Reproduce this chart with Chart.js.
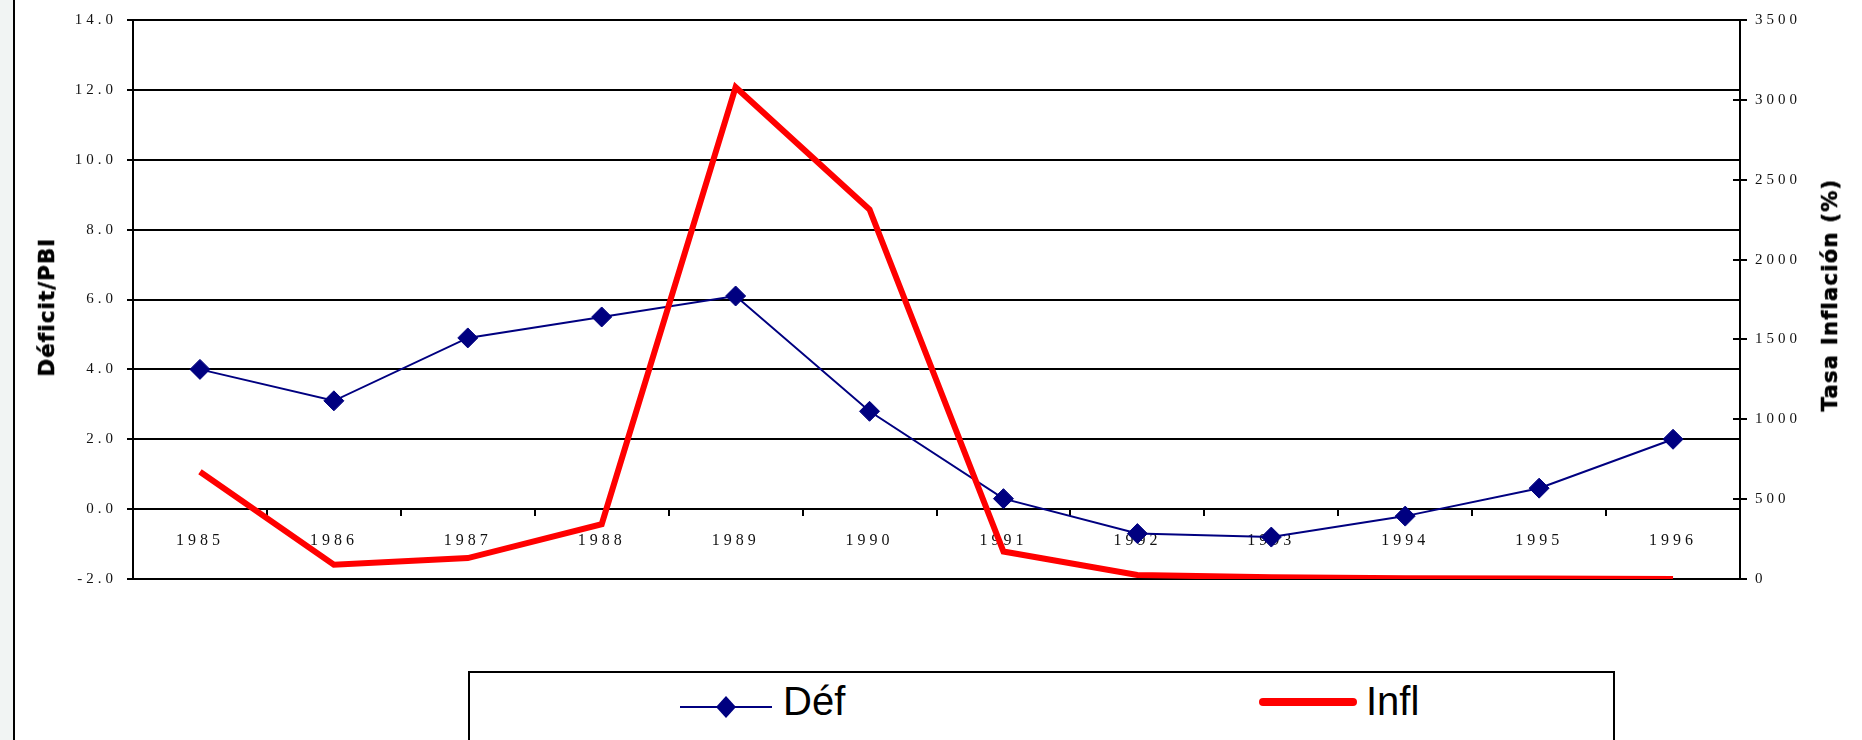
<!DOCTYPE html>
<html>
<head>
<meta charset="utf-8">
<script src="https://cdn.jsdelivr.net/npm/chart.js@4/dist/chart.umd.min.js"></script>
<style>
  html, body { margin: 0; padding: 0; background: #fff; }
  body { width: 1862px; height: 740px; position: relative; overflow: hidden; font-family: "Liberation Sans", Arial, sans-serif; }
  #strip { position: absolute; left: 0; top: 0; width: 13px; height: 740px; background: #f1f4f3; border-right: 2px solid #000; }
  #wrap { position: absolute; left: 0; top: 0; width: 1862px; height: 600px; }
  .axisTitle { position: absolute; font: bold 21px "DejaVu Sans", sans-serif; letter-spacing: 1.3px; white-space: nowrap;
               -webkit-text-stroke: 0.6px #000; transform: translate(-50%, -50%) rotate(-90deg); color: #000; }
  #legendBox { position: absolute; left: 468px; top: 671px; width: 1147px; height: 120px; border: 2px solid #000; box-sizing: border-box; }
  .legText { position: absolute; font-size: 40px; line-height: 40px; color: #000; }
  .legSym { position: absolute; }
</style>
</head>
<body>
<div id="strip"></div>
<div id="wrap"><canvas id="chart" width="1862" height="600"></canvas></div>
<div class="axisTitle" style="left:47px; top:307px;">Déficit/PBI</div>
<div class="axisTitle" style="left:1830px; top:295px;">Tasa Inflación (%)</div>

<div id="legendBox"></div>
<svg class="legSym" style="left:680px; top:695px;" width="92" height="24">
  <line x1="0" y1="12" x2="92" y2="12" stroke="#000080" stroke-width="2"/>
  <polygon points="46,1 56,12 46,23 36,12" fill="#000080"/>
</svg>
<div class="legText" style="left:783px; top:681px;">Déf</div>
<svg class="legSym" style="left:1258px; top:696px;" width="100" height="12">
  <line x1="5" y1="6" x2="95" y2="6" stroke="#ff0000" stroke-width="8" stroke-linecap="round"/>
</svg>
<div class="legText" style="left:1366px; top:681px;">Infl</div>

<script>
// --- data ---
const years = ['1985', '1986', '1987', '1988', '1989', '1990', '1991', '1992', '1993', '1994', '1995', '1996'];
const deficit = [4.0, 3.1, 4.9, 5.5, 6.1, 2.8, 0.3, -0.7, -0.8, -0.2, 0.6, 2.0];
const inflation = [672, 90, 131, 343, 3079, 2314, 172, 25, 11, 4, 3, 0];

const deficitAxis = { min: -2, max: 14, step: 2 };
const inflationAxis = { min: 0, max: 3500, step: 500 };

// tick labels in the original are letter-spaced
const spacedTicks = {
    id: 'spacedTicks',
    beforeDraw(chart) { chart.ctx.letterSpacing = '4px'; },
    afterDraw(chart) { chart.ctx.letterSpacing = '0px'; }
};

// right axis ticks cross the axis line (inner half)
const innerTicks = {
    id: 'innerTicks',
    afterDatasetsDraw(chart) {
        const s = chart.scales.y1;
        const c = chart.ctx;
        c.save();
        c.strokeStyle = '#000';
        c.lineWidth = 2;
        s.ticks.forEach(t => {
            const y = Math.round(s.getPixelForValue(t.value));
            c.beginPath();
            c.moveTo(s.left - 7, y);
            c.lineTo(s.left, y);
            c.stroke();
        });
        c.restore();
    }
};

const tickFont = size => ({ family: '"Liberation Serif", "Times New Roman", serif', size: size });

const ctx = document.getElementById('chart').getContext('2d');
new Chart(ctx, {
    type: 'line',
    data: {
        labels: years,
        datasets: [
            {
                label: 'Déf',
                data: deficit,
                yAxisID: 'y',
                borderColor: '#000080',
                backgroundColor: '#000080',
                borderWidth: 2,
                pointStyle: 'rectRot',
                pointRadius: 10,
                pointBackgroundColor: '#000080',
                pointBorderColor: '#000080',
                pointBorderWidth: 1,
                tension: 0,
                order: 2
            },
            {
                label: 'Infl',
                data: inflation,
                yAxisID: 'y1',
                borderColor: '#ff0000',
                backgroundColor: '#ff0000',
                borderWidth: 6,
                pointRadius: 0,
                tension: 0,
                order: 1
            }
        ]
    },
    options: {
        responsive: false,
        animation: false,
        layout: { padding: { top: 20, bottom: 21, left: 0, right: 0 } },
        plugins: { legend: { display: false }, tooltip: { enabled: false } },
        scales: {
            x: {
                position: { y: 0 },
                offset: true,
                grid: { drawOnChartArea: false, color: '#000', lineWidth: 2, tickLength: 6, offset: true },
                border: { color: '#000', width: 2 },
                ticks: { font: tickFont(16), color: '#111', padding: 16, maxRotation: 0, autoSkip: false }
            },
            y: {
                position: 'left',
                min: deficitAxis.min,
                max: deficitAxis.max,
                afterFit: s => { s.width = 133; },
                grid: { color: '#000', lineWidth: 2, tickLength: 6 },
                border: { color: '#000', width: 2 },
                ticks: { stepSize: deficitAxis.step, font: tickFont(15), color: '#111', padding: 10,
                         callback: v => v.toFixed(1) }
            },
            y1: {
                position: 'right',
                min: inflationAxis.min,
                max: inflationAxis.max,
                afterFit: s => { s.width = 122; },
                grid: { drawOnChartArea: false, color: '#000', lineWidth: 2, tickLength: 7 },
                border: { color: '#000', width: 2 },
                ticks: { stepSize: inflationAxis.step, font: tickFont(15), color: '#111', padding: 8,
                         callback: v => String(v) }
            }
        }
    },
    plugins: [spacedTicks, innerTicks]
});
</script>
</body>
</html>
